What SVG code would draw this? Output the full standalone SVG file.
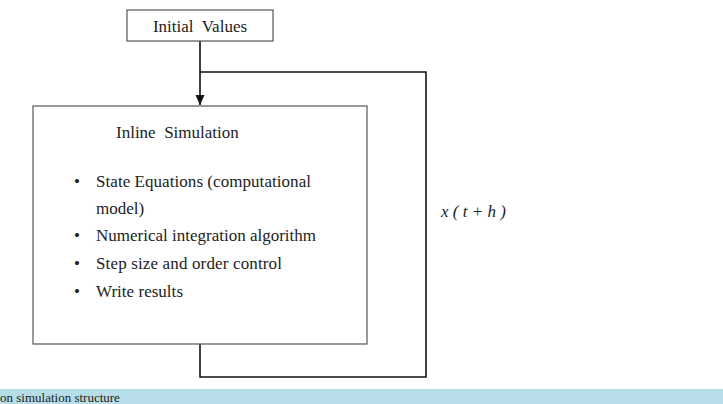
<svg xmlns="http://www.w3.org/2000/svg" width="723" height="404" viewBox="0 0 723 404">
<style>
.t{font-family:"Liberation Serif","Times New Roman",serif;fill:#222;font-size:17px}
.box{fill:#fff;stroke:#555;stroke-width:1.2}
.ln{fill:none;stroke:#111;stroke-width:1.6}
</style>
<defs>
<marker id="ah" markerWidth="12" markerHeight="12" refX="10" refY="5" orient="auto" markerUnits="userSpaceOnUse">
<path d="M0,0.5 L10,5 L0,9.5 Z" fill="#111"/>
</marker>
</defs>
<rect x="0" y="0" width="723" height="404" fill="#fff"/>
<g id="connectors">
<path class="ln" d="M200,41 V105" marker-end="url(#ah)"/>
<path class="ln" d="M200,72 H426 V377 H200 V344"/>
<text class="t" x="441" y="217" font-style="italic" font-size="16" xml:space="preserve">x ( t + h )</text>
</g>
<g id="initial">
<rect class="box" x="127" y="10" width="146" height="31"/>
<text class="t" x="200" y="32" text-anchor="middle" xml:space="preserve">Initial  Values</text>
</g>
<g id="inline">
<rect class="box" x="33" y="106" width="334" height="238"/>
<text class="t" x="116" y="138" xml:space="preserve">Inline  Simulation</text>
<g class="t" xml:space="preserve">
<text x="74" y="187">•</text><text x="96" y="187" textLength="215" lengthAdjust="spacing">State Equations (computational</text>
<text x="96" y="214">model)</text>
<text x="74" y="241">•</text><text x="96" y="241" textLength="220" lengthAdjust="spacing">Numerical integration algorithm</text>
<text x="74" y="269">•</text><text x="96" y="269" textLength="186" lengthAdjust="spacing">Step size and order control</text>
<text x="74" y="297">•</text><text x="96" y="297" textLength="87" lengthAdjust="spacing">Write results</text>
</g>
</g>
<rect x="0" y="389" width="723" height="15" fill="#b7dde8"/>
<text x="0" y="402" font-family="Liberation Serif,serif" font-size="13" fill="#222">on simulation structure</text>
</svg>
